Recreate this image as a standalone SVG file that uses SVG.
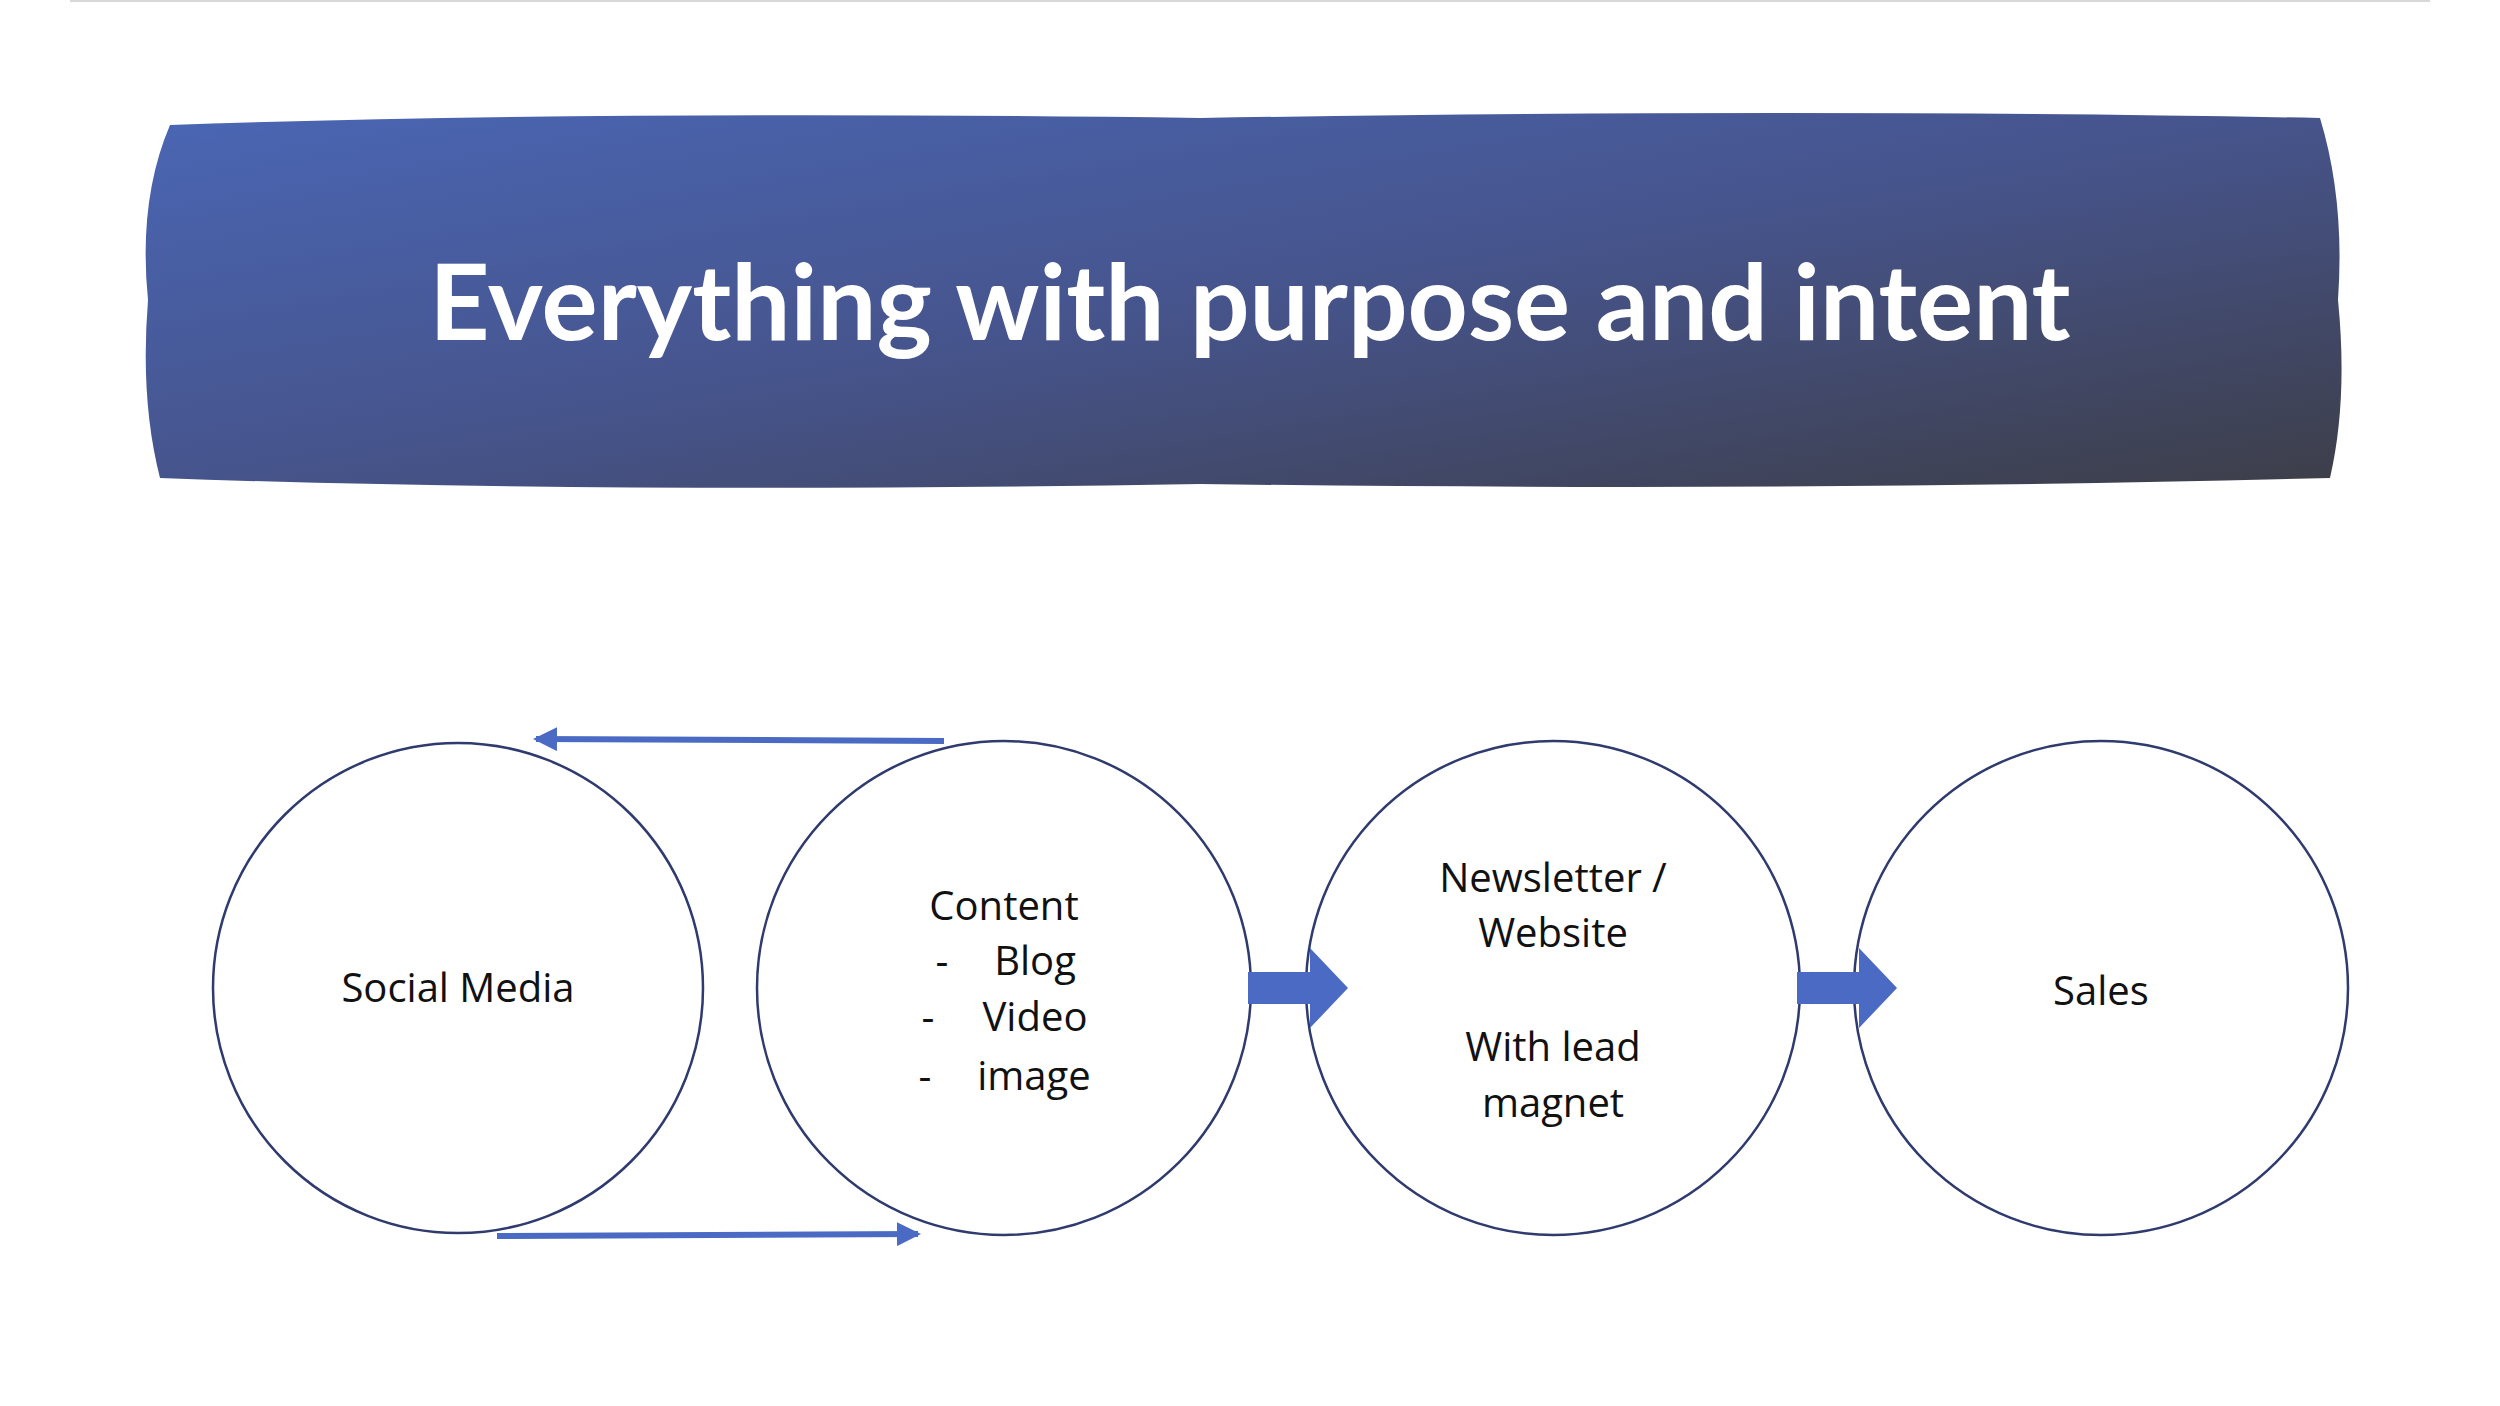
<svg xmlns="http://www.w3.org/2000/svg" width="2500" height="1406" viewBox="0 0 2500 1406">
<defs>
<linearGradient id="g" x1="0" y1="0" x2="1" y2="1">
<stop offset="0" stop-color="#4a66b4"/><stop offset="0.5" stop-color="#46548c"/><stop offset="1" stop-color="#3d3e48"/>
</linearGradient>
<marker id="ah" markerWidth="4" markerHeight="4" refX="3.5" refY="2" orient="auto" markerUnits="strokeWidth"><path d="M0,0 L4,2 L0,4 Z" fill="#4a6ac4"/></marker>
<style>
.c{fill:#fff;stroke:#2f3a6e;stroke-width:2.5}
.t{font-family:"Open Sans","Liberation Sans",sans-serif;font-size:40px;fill:#111;text-anchor:middle}
.l{stroke:#4a6ac4;stroke-width:6;fill:none}
.b{fill:#4a6ac4}
</style>
</defs>
<rect width="2500" height="1406" fill="#fff"/>
<line x1="70" y1="1" x2="2430" y2="1" stroke="#d8d8d8" stroke-width="2"/>
<g id="banner">
<path d="M170,125 Q600,110 1200,118 Q1800,108 2320,118 Q2345,200 2338,300 Q2348,400 2330,478 Q1800,492 1200,484 Q600,494 160,478 Q140,400 148,300 Q138,200 170,125 Z" fill="url(#g)"/>
<text x="1250" y="340" font-family="Lato,'Liberation Sans',sans-serif" font-weight="bold" font-size="105" fill="#fff" text-anchor="middle">Everything with purpose and intent</text>
</g>
<g id="social"><circle class="c" cx="458" cy="988" r="245"/><text class="t" x="458" y="1002">Social Media</text></g>
<g id="content"><circle class="c" cx="1004" cy="988" r="247"/>
<text class="t" x="1004" y="920">Content</text>
<text class="t" x="1004" y="975"><tspan x="942">-</tspan><tspan x="1035">Blog</tspan></text>
<text class="t" x="1004" y="1031"><tspan x="928">-</tspan><tspan x="1035">Video</tspan></text>
<text class="t" x="1004" y="1090"><tspan x="925">-</tspan><tspan x="1034">image</tspan></text>
</g>
<g id="newsletter"><circle class="c" cx="1553" cy="988" r="247"/>
<text class="t" x="1553" y="892">Newsletter /</text>
<text class="t" x="1553" y="947">Website</text>
<text class="t" x="1553" y="1061">With lead</text>
<text class="t" x="1553" y="1117">magnet</text>
</g>
<g id="sales"><circle class="c" cx="2101" cy="988" r="247"/><text class="t" x="2101" y="1005">Sales</text></g>
<g id="connectors">
<line class="l" x1="944" y1="741" x2="536" y2="739" marker-end="url(#ah)"/>
<line class="l" x1="497" y1="1236" x2="918" y2="1234" marker-end="url(#ah)"/>
<path class="b" d="M1248,972 L1310,972 L1310,948 L1348,988 L1310,1028 L1310,1004 L1248,1004 Z"/>
<path class="b" d="M1797,972 L1859,972 L1859,948 L1897,988 L1859,1028 L1859,1004 L1797,1004 Z"/>
</g>
</svg>
